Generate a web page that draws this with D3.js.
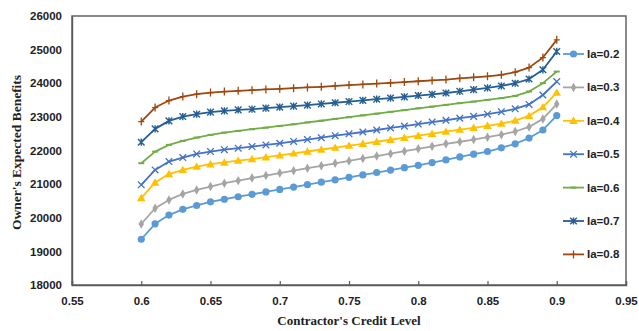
<!DOCTYPE html>
<html><head><meta charset="utf-8">
<script src="https://cdn.jsdelivr.net/npm/d3@7/dist/d3.min.js"></script>
<style>
html,body{margin:0;padding:0;background:#fff;}
svg{display:block;}
</style>
</head><body>
<svg id="chart" width="639" height="331"></svg>
<script>
const creditLevels = [0.60,0.61,0.62,0.63,0.64,0.65,0.66,0.67,0.68,0.69,0.70,0.71,0.72,0.73,0.74,0.75,0.76,0.77,0.78,0.79,0.80,0.81,0.82,0.83,0.84,0.85,0.86,0.87,0.88,0.89,0.90];
const seriesNames = ["Ia=0.2","Ia=0.3","Ia=0.4","Ia=0.5","Ia=0.6","Ia=0.7","Ia=0.8"];
const ia02 = [19360,19820,20080,20250,20365,20475,20550,20625,20697,20769,20841,20913,20985,21057,21129,21201,21273,21345,21417,21489,21560,21640,21720,21810,21890,21970,22080,22200,22370,22610,23040];
const ia03 = [19815,20283,20530,20708,20827,20926,21027,21104,21180,21255,21330,21400,21475,21545,21620,21690,21765,21835,21905,21980,22050,22125,22200,22260,22325,22395,22470,22565,22700,22940,23380];
const ia04 = [20586,21050,21300,21423,21520,21592,21645,21700,21745,21800,21855,21915,21970,22030,22085,22145,22200,22260,22320,22380,22440,22500,22560,22620,22675,22735,22800,22890,23030,23290,23720];
const ia05 = [20980,21423,21670,21790,21899,21967,22025,22068,22116,22165,22215,22270,22325,22380,22440,22495,22550,22610,22670,22725,22785,22845,22900,22960,23015,23080,23150,23240,23370,23650,24050];
const ia06 = [21622,21967,22167,22286,22384,22464,22533,22583,22634,22680,22730,22780,22835,22885,22940,22990,23045,23095,23150,23200,23255,23305,23357,23408,23455,23506,23557,23625,23753,24003,24348];
const ia07 = [22247,22643,22881,23009,23080,23140,23179,23208,23229,23260,23290,23320,23350,23385,23420,23455,23490,23525,23560,23595,23635,23670,23710,23760,23810,23860,23920,24000,24125,24400,24945];
const ia08 = [22860,23277,23485,23604,23676,23723,23753,23774,23795,23815,23835,23855,23875,23895,23920,23945,23965,23990,24010,24035,24060,24085,24110,24145,24175,24205,24250,24330,24465,24765,25290];
const xTicks = [0.55,0.6,0.65,0.7,0.75,0.8,0.85,0.9,0.95];
const yTicks = [18000,19000,20000,21000,22000,23000,24000,25000,26000];
const xTitle = "Contractor's Credit Level";
const yTitle = "Owner's Expected Benefits";

const allValues = [ia02,ia03,ia04,ia05,ia06,ia07,ia08];
const colors = ["#5B9BD5","#A5A5A5","#FFC000","#4472C4","#70AD47","#255E91","#9E480E"];
const markers = ["circle","diamond","triangle","x","dash","star","plus"];

const svg = d3.select("#chart");
const L = 72, R = 626, T = 16, B = 285;
const x = d3.scaleLinear().domain([0.55,0.95]).range([L,R]);
const y = d3.scaleLinear().domain([18000,26000]).range([B,T]);

const tickFont = "'Liberation Sans', Arial, sans-serif";
const titleFont = "'Liberation Serif', 'Times New Roman', serif";

// frame
svg.append("rect").attr("x",L).attr("y",T).attr("width",R-L).attr("height",B-T)
  .attr("fill","none").attr("stroke","#595959").attr("stroke-width",1.4);

// x axis
const xAxis = d3.axisBottom(x).tickValues(xTicks).tickSize(-4).tickPadding(12)
  .tickFormat(d => d3.format("")(+d.toFixed(2)));
const gx = svg.append("g").attr("transform",`translate(0,${B})`).call(xAxis);
gx.select(".domain").attr("stroke","#595959").attr("stroke-width",1.4);
gx.selectAll(".tick line").attr("stroke","#595959").attr("stroke-width",1.2);
gx.selectAll(".tick text").attr("font-family",tickFont).attr("font-weight","bold")
  .attr("font-size","11.5px").attr("fill","#222");

// y axis
const yAxis = d3.axisLeft(y).tickValues(yTicks).tickSize(0).tickPadding(10).tickFormat(d3.format("d"));
const gy = svg.append("g").attr("transform",`translate(${L},0)`).call(yAxis);
gy.select(".domain").attr("stroke","#595959").attr("stroke-width",1.4);
gy.selectAll(".tick text").attr("font-family",tickFont).attr("font-weight","bold")
  .attr("font-size","11.5px").attr("fill","#222");

// titles
svg.append("text").attr("x",(L+R)/2).attr("y",325).attr("text-anchor","middle")
  .attr("font-family",titleFont).attr("font-weight","bold").attr("font-size","13px").attr("fill","#222")
  .text(xTitle);
svg.append("text").attr("transform",`translate(21,${(T+B)/2 + 2}) rotate(-90)`).attr("text-anchor","middle")
  .attr("font-family",titleFont).attr("font-weight","bold").attr("font-size","13.5px").attr("fill","#222")
  .text(yTitle);

function drawMarker(g, type, color){
  if(type==="circle"){
    g.append("circle").attr("r",3.6).attr("fill",color);
  } else if(type==="diamond"){
    g.append("path").attr("d",d3.symbol(d3.symbolDiamond,26)()).attr("fill",color);
  } else if(type==="triangle"){
    g.append("path").attr("d","M0,-4.2L4.3,3.2L-4.3,3.2Z").attr("fill",color);
  } else if(type==="x"){
    g.append("path").attr("d","M-3.3,-3.3L3.3,3.3M-3.3,3.3L3.3,-3.3").attr("stroke",color).attr("stroke-width",1.3);
  } else if(type==="dash"){
    g.append("path").attr("d","M-3,0L3,0").attr("stroke",color).attr("stroke-width",2);
  } else if(type==="star"){
    g.append("path").attr("d","M-3.3,-3.3L3.3,3.3M-3.3,3.3L3.3,-3.3M0,-3.6L0,3.6").attr("stroke",color).attr("stroke-width",1.4);
  } else if(type==="plus"){
    g.append("path").attr("d","M0,-4L0,4M-3,0L3,0").attr("stroke",color).attr("stroke-width",1.3);
  }
}

const line = d3.line().x((d,i)=>x(creditLevels[i])).y(d=>y(d));
allValues.forEach((vals,k)=>{
  const g = svg.append("g");
  g.append("path").datum(vals).attr("d",line).attr("fill","none")
    .attr("stroke",colors[k]).attr("stroke-width",1.8).attr("stroke-linejoin","round");
  vals.forEach((v,i)=>{
    const mg = g.append("g").attr("transform",`translate(${x(creditLevels[i])},${y(v)})`);
    drawMarker(mg, markers[k], colors[k]);
  });
});

// legend
const legY0 = 54, legStep = 33.4;
seriesNames.forEach((name,k)=>{
  const gy0 = legY0 + k*legStep;
  const g = svg.append("g").attr("transform",`translate(0,${gy0})`);
  g.append("line").attr("x1",563).attr("x2",584).attr("y1",0).attr("y2",0)
    .attr("stroke",colors[k]).attr("stroke-width",1.8);
  const mg = g.append("g").attr("transform","translate(573.5,0)");
  drawMarker(mg, markers[k], colors[k]);
  g.append("text").attr("x",587).attr("y",4).attr("font-family",tickFont).attr("font-weight","bold")
    .attr("font-size","11.5px").attr("fill","#222").text(name);
});
</script>
</body></html>
